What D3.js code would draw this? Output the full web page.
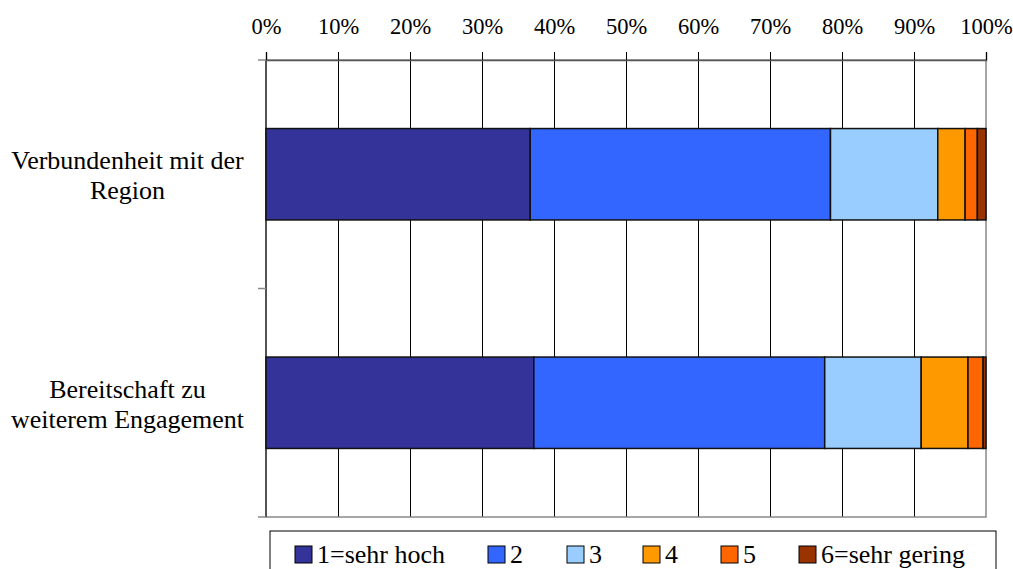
<!DOCTYPE html>
<html><head><meta charset="utf-8">
<script src="https://cdn.jsdelivr.net/npm/d3@7"></script>
<style>body{margin:0;background:#fff}svg{display:block}</style>
</head><body><svg id="c" width="1013" height="569"></svg>
<script>
const categories = [["Verbundenheit mit der","Region"],["Bereitschaft zu","weiterem Engagement"]];
const seriesNames = ["1=sehr hoch","2","3","4","5","6=sehr gering"];
const colors = ["#333399","#3366FF","#99CCFF","#FF9900","#FF6600","#993300"];
const verbundenheit = [36.7,41.7,14.9,3.8,1.7,1.2];
const bereitschaft = [37.2,40.4,13.4,6.5,2.1,0.4];
const tickValues = [0,10,20,30,40,50,60,70,80,90,100];
const values = [verbundenheit, bereitschaft];

const FONT = "Liberation Serif";
const svg = d3.select("#c");
const L = 266, R = 986, T = 60, B = 517;
const x = d3.scaleLinear().domain([0,100]).range([L,R]);
const y = d3.scaleBand().domain([0,1]).range([T,B]).paddingInner(0.6).paddingOuter(0.3);
const yb = d3.scaleBand().domain([0,1]).range([T,B]);

// grid lines
svg.append("g").selectAll("line").data(tickValues.slice(1,-1)).join("line")
  .attr("x1",d=>x(d)).attr("x2",d=>x(d)).attr("y1",T).attr("y2",B)
  .attr("stroke","#000").attr("stroke-width",1).attr("shape-rendering","crispEdges");
// plot border
svg.append("rect").attr("x",L).attr("y",T).attr("width",R-L).attr("height",B-T)
  .attr("fill","none").attr("stroke","#888").attr("stroke-width",1.5);
// left axis line
svg.append("line").attr("x1",L).attr("x2",L).attr("y1",T).attr("y2",B).attr("stroke","#000").attr("stroke-width",1);

// top axis
const ax = svg.append("g").attr("transform",`translate(0,${T})`)
  .call(d3.axisTop(x).tickValues(tickValues).tickFormat(d=>d+"%").tickSize(8).tickPadding(18));
ax.attr("font-family",FONT).attr("font-size",22.5);
ax.select(".domain").attr("stroke","#555").attr("stroke-width",1.5);
ax.selectAll(".tick line").attr("stroke","#000");
ax.selectAll("text").attr("fill","#000").attr("font-family",FONT).attr("font-size",22.5);

// left ticks
svg.append("g").selectAll("line").data([T, yb(1), B]).join("line")
  .attr("x1",L-8).attr("x2",L).attr("y1",d=>d).attr("y2",d=>d).attr("stroke","#888").attr("stroke-width",1.5);

// bars
values.forEach((vals,ci)=>{
  let cum = 0;
  const segs = vals.map((v,i)=>{const s={x0:cum,x1:cum+v,i}; cum+=v; return s;});
  svg.append("g").selectAll("rect").data(segs).join("rect")
    .attr("x",d=>x(d.x0)).attr("width",d=>x(d.x1)-x(d.x0))
    .attr("y",y(ci)).attr("height",y.bandwidth())
    .attr("fill",d=>colors[d.i]).attr("stroke","#111").attr("stroke-width",1.5);
});

// category labels
categories.forEach((lines,ci)=>{
  const cy = yb(ci)+yb.bandwidth()/2;
  const t = svg.append("text").attr("text-anchor","middle").attr("fill","#000")
    .attr("font-family",FONT).attr("font-size",26);
  lines.forEach((ln,k)=>{
    t.append("tspan").attr("x",127.5).attr("y",cy + (k-0.5)*30 + 10).text(ln);
  });
});

// legend
svg.append("rect").attr("x",270).attr("y",531).attr("width",726).attr("height",50)
  .attr("fill","#fff").attr("stroke","#000").attr("stroke-width",1);
const legX = [295,488,567,643,721,799];
seriesNames.forEach((n,i)=>{
  svg.append("rect").attr("x",legX[i]).attr("y",546).attr("width",17).attr("height",17)
    .attr("fill",colors[i]).attr("stroke","#000").attr("stroke-width",1);
  svg.append("text").attr("x",legX[i]+22).attr("y",563).attr("fill","#000")
    .attr("font-family",FONT).attr("font-size",26).text(n);
});
</script></body></html>
